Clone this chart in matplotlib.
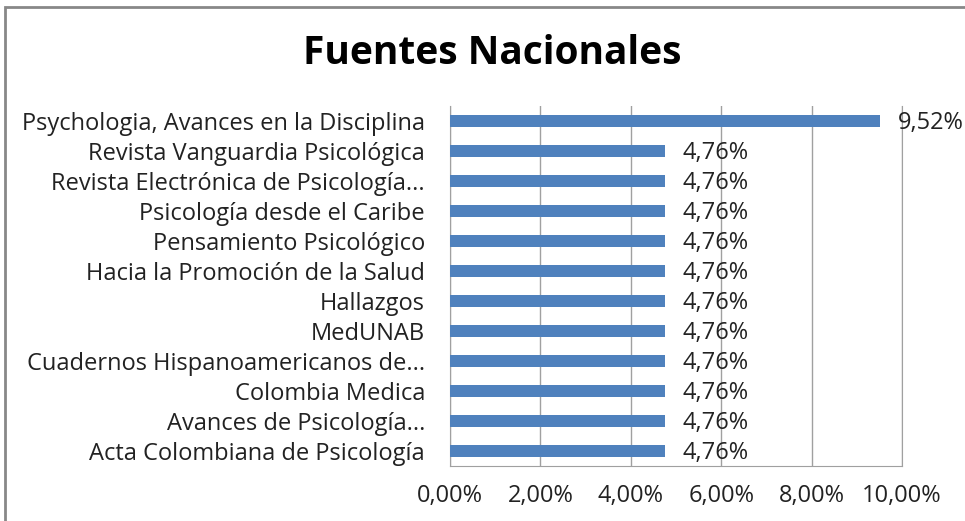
import matplotlib.pyplot as plt
from matplotlib.patches import Rectangle

# datos (de abajo hacia arriba)
fuentes = ["Acta Colombiana de Psicología", "Avances de Psicología...",
           "Colombia Medica", "Cuadernos Hispanoamericanos de...",
           "MedUNAB", "Hallazgos", "Hacia la Promoción de la Salud",
           "Pensamiento Psicológico", "Psicología desde el Caribe",
           "Revista Electrónica de Psicología...",
           "Revista Vanguardia Psicológica",
           "Psychologia, Avances en la Disciplina"]
porcentajes = [4.76, 4.76, 4.76, 4.76, 4.76, 4.76, 4.76, 4.76, 4.76, 4.76, 4.76, 9.52]
ticks_x = [0, 2, 4, 6, 8, 10]

plt.rcParams['font.family'] = ['Open Sans', 'DejaVu Sans']

fig = plt.figure(figsize=(9.65, 5.21), dpi=100)
ax = fig.add_axes([450 / 965, 1 - 466 / 521, 452 / 965, 360 / 521])

y = list(range(len(fuentes)))
ax.barh(y, porcentajes, height=0.42, color='#4F81BD', zorder=3)
for yi, v in zip(y, porcentajes):
    ax.text(v + 0.38, yi - 0.05, f"{v:.2f}%".replace('.', ','), va='center', ha='left',
            fontsize=17, color='#222222', zorder=4)

ax.set_xlim(0, 10)
ax.set_ylim(-0.5, len(fuentes) - 0.5)
ax.set_xticks(ticks_x)
ax.set_xticklabels([f"{t:.2f}%".replace('.', ',') for t in ticks_x], fontsize=17, color='#222222')
ax.set_yticks(y)
ax.set_yticklabels(fuentes, fontsize=17, color='#222222')
ax.tick_params(axis='both', length=0)
ax.tick_params(axis='x', pad=13)
ax.tick_params(axis='y', pad=18)
ax.grid(axis='x', color='#A0A0A0', linewidth=1, zorder=0)
for s in ['left', 'bottom', 'right']:
    ax.spines[s].set_color('#A0A0A0')
ax.spines['top'].set_visible(False)

fig.text(492 / 965, 1 - 54 / 521, "Fuentes Nacionales", ha='center', va='center',
         fontsize=28, fontweight='bold', color='black')

# marco del gráfico
fig.patches.append(Rectangle((5 / 965, -0.1), 1.1, 1 - 7 / 521 + 0.1, transform=fig.transFigure,
                             fill=False, edgecolor='#888888', linewidth=2))

fig.savefig("out.png", dpi=100)
